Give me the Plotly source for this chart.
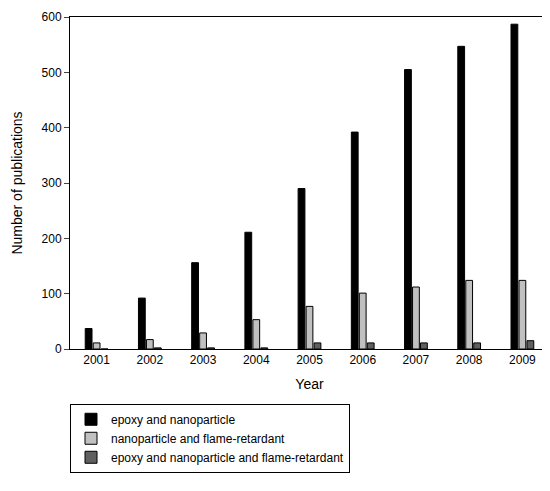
import plotly.graph_objects as go

years = ["2001","2002","2003","2004","2005","2006","2007","2008","2009"]
epoxy_nano = [37, 92, 156, 211, 290, 392, 505, 547, 587]
nano_flame = [11, 17, 29, 53, 77, 101, 112, 124, 124]
epoxy_nano_flame = [0, 2, 2, 2, 11, 11, 11, 11, 15]

fig = go.Figure()
for name, vals, col in [("epoxy and nanoparticle", epoxy_nano, "#000000"),
                        ("nanoparticle and flame-retardant", nano_flame, "#c0c0c0"),
                        ("epoxy and nanoparticle and flame-retardant", epoxy_nano_flame, "#606060")]:
    fig.add_trace(go.Bar(x=years, y=vals, name=name, marker=dict(color=col, line=dict(color="black", width=1))))

fig.update_layout(
    width=550, height=491, plot_bgcolor="white", paper_bgcolor="white",
    margin=dict(l=62, r=9, t=9, b=150, autoexpand=False),
    font=dict(family="Liberation Sans, Arial", size=12, color="black"),
    barmode="group", bargap=0.55, bargroupgap=0.15,
    xaxis=dict(title=dict(text="Year", standoff=12), showline=True, mirror=True, linecolor="black",
               ticks="", showgrid=False),
    yaxis=dict(title=dict(text="Number of publications"), range=[0, 600], dtick=100, showline=True, mirror=True,
               linecolor="black", ticks="outside", ticklen=5, showgrid=False, zeroline=False),
    legend=dict(x=0, y=-0.165, xanchor="left", yanchor="top", bordercolor="black", borderwidth=1,
                tracegroupgap=0, font=dict(size=12)),
)
fig.write_html("out.html")
